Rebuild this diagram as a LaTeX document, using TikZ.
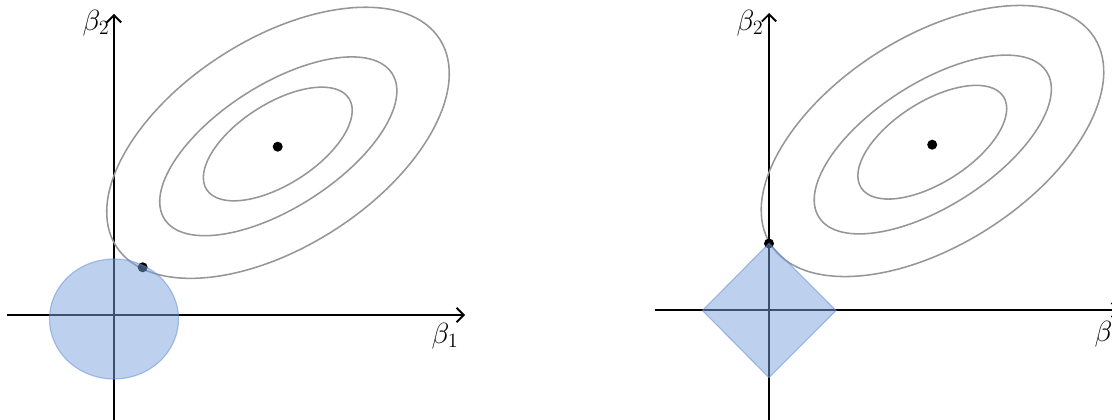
\documentclass[tikz,border=0pt]{standalone}
\usepackage{tikz}
\usepackage{amsmath}
\usetikzlibrary{arrows.meta}
\definecolor{contourgray}{HTML}{969696}
\definecolor{ballblue}{HTML}{7BA1DD}
\definecolor{balledge}{HTML}{5F8BD6}

\begin{document}
\begin{tikzpicture}[x=0.025cm, y=0.025cm,
    axis/.style={line width=1.3pt, black, -{Straight Barb[length=1.8mm, width=3.6mm]}},
    contour/.style={line width=1.1pt, contourgray},
    ball/.style={fill=ballblue, fill opacity=0.5, draw=balledge, draw opacity=0.5, line width=0.8pt},
    estimate/.style={fill=black, draw=none},
    axislabel/.style={font=\fontsize{21}{24}\selectfont, inner sep=0pt}]
  % Pixel grid of the figure: 1112 x 420, origin bottom left.
  % Left panel: ridge (circle constraint). Right panel: lasso (diamond).
  \useasboundingbox (0,0) rectangle (1112,420);
  \def\tilt{32.6}
  \def\rA{192.1} \def\rB{103.9}   % outer contour semi-axes
  \def\mA{135.1} \def\mB{61.6}    % middle contour
  \def\iA{84.5}  \def\iB{40.4}    % inner contour

  % ---------- left: axes ----------
  \coordinate (ridgeO) at (114,105);
  \draw[axis] (7,105) -- (465,105);
  \draw[axis] (114,0) -- (114,406);
  \node[axislabel] (ridgeb2) at (96,397) {$\beta_2$};
  \node[axislabel] (ridgeb1) at (445,84) {$\beta_1$};

  % ---------- left: RSS contours and OLS estimate ----------
  \coordinate (ridgeC1) at (278,277.2);
  \coordinate (ridgeC2) at (278.3,273.7);
  \coordinate (ridgeC3) at (277.8,276);
  \draw[contour, rotate around={\tilt:(ridgeC1)}] (ridgeC1) ellipse [x radius=\rA, y radius=\rB];
  \draw[contour, rotate around={\tilt:(ridgeC2)}] (ridgeC2) ellipse [x radius=\mA, y radius=\mB];
  \draw[contour, rotate around={\tilt:(ridgeC3)}] (ridgeC3) ellipse [x radius=\iA, y radius=\iB];
  \fill[estimate] (277.7,273.3) circle [radius=5];
  \fill[estimate] (142.7,152.7) circle [radius=5];

  % ---------- left: constraint region ----------
  \path[ball] (114,101) ellipse [x radius=64.5, y radius=60];

  % ---------- right: axes ----------
  \coordinate (lassoO) at (769,110);
  \draw[axis] (655,110) -- (1120,110);
  \draw[axis] (769,0) -- (769,407);
  \node[axislabel] (lassob2) at (750,397) {$\beta_2$};
  \node[axislabel] (lassob1) at (1108,86) {$\beta_1$};

  % ---------- right: RSS contours and OLS estimate ----------
  \coordinate (lassoC1) at (932.5,279);
  \coordinate (lassoC2) at (932.8,275.5);
  \coordinate (lassoC3) at (932.3,277.8);
  \draw[contour, rotate around={\tilt:(lassoC1)}] (lassoC1) ellipse [x radius=\rA, y radius=\rB];
  \draw[contour, rotate around={\tilt:(lassoC2)}] (lassoC2) ellipse [x radius=\mA, y radius=\mB];
  \draw[contour, rotate around={\tilt:(lassoC3)}] (lassoC3) ellipse [x radius=\iA, y radius=\iB];
  \fill[estimate] (932.2,275.3) circle [radius=5];
  \fill[estimate] (769,176.5) circle [radius=5];

  % ---------- right: constraint region ----------
  \path[ball] (702.5,109.5) -- (769,176.7) -- (836,109.5) -- (769,42.3) -- cycle;
\end{tikzpicture}
\end{document}
